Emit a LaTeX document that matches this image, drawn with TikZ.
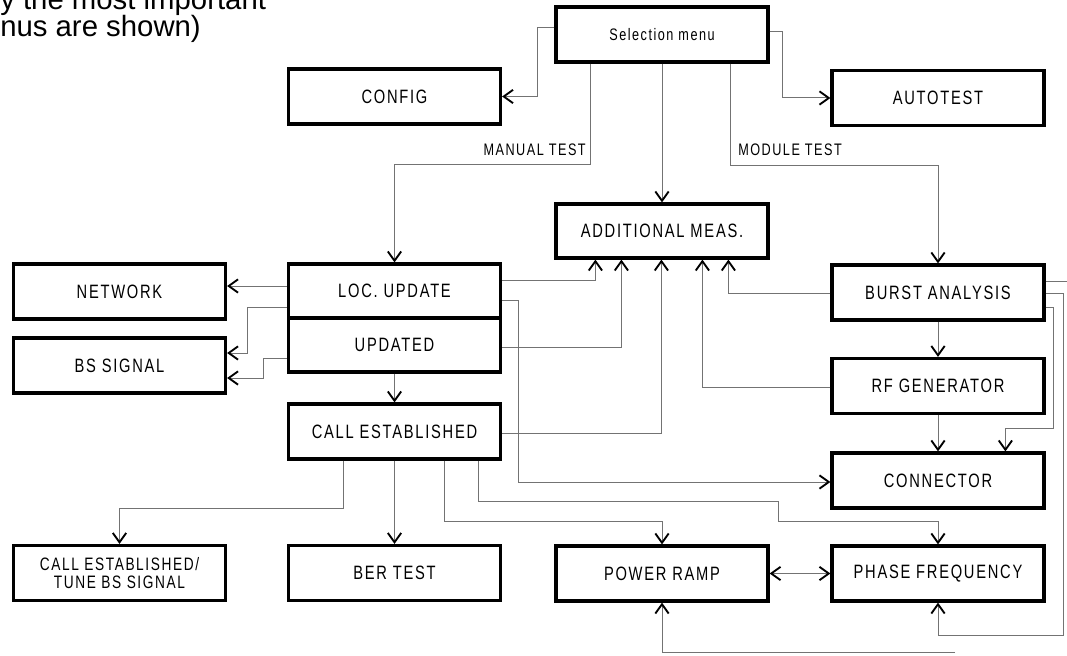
\documentclass[tikz,border=0pt]{standalone}
\usepackage{fontspec}
\setmainfont{Liberation Sans}
\newfontfamily\boxfont[FakeStretch=0.76,LetterSpace=9]{Liberation Sans}
\usetikzlibrary{arrows.meta,calc}
\begin{document}
\begin{tikzpicture}[x=0.75pt,y=-0.75pt,
  box/.style={draw=black,line width=2.4pt,minimum width=159pt,minimum height=41.25pt,inner sep=0pt,align=center,font=\boxfont\fontsize{14.5}{14.5}\selectfont},
  conn/.style={draw=black!55,line width=0.75pt},
  myv/.tip={Straight Barb[length=7pt,width=10pt,line width=1.4pt,color=black]},
  arr/.style={conn,-myv},
  lbl/.style={inner sep=0pt,font=\boxfont\fontsize{12.5}{12.5}\selectfont},
  note/.style={inner sep=0pt,anchor=base west,font=\fontsize{22}{22}\selectfont}]
\useasboundingbox (0,0) rectangle (1067,656);
\begin{scope}
  \clip (0,0) rectangle (1067,656);
  \node[note] (note1) at (0,10) {y the most important};
\end{scope}
\node[note] (note2) at (0,37) {nus are shown)};

% boxes
\node[box,font=\boxfont\fontsize{12.5}{12.5}\selectfont] (sel) at (662,34.5) {Selection menu};
\node[box] (config) at (394.5,96.5) {CONFIG};
\node[box] (autotest) at (938,98) {AUTOTEST};
\node[box,minimum height=40.5pt] (add) at (662,231) {ADDITIONAL MEAS.};
\node[box] (network) at (119.5,291.5) {NETWORK};
\node[box,minimum height=40.5pt] (loc) at (394.5,291) {LOC. UPDATE};
\node[box,minimum height=40.5pt] (upd) at (394.5,345) {UPDATED};
\node[box] (burst) at (938,292.5) {BURST ANALYSIS};
\node[box] (bs) at (119.5,365.5) {BS SIGNAL};
\node[box] (rf) at (938,386) {RF GENERATOR};
\node[box] (call) at (394.5,431.5) {CALL ESTABLISHED};
\node[box] (connector) at (938,480.5) {CONNECTOR};
\node[box,font=\boxfont\fontsize{13.5}{14}\selectfont] (cetune) at (119.5,573) {CALL ESTABLISHED/\\TUNE BS SIGNAL};
\node[box] (ber) at (394.5,573) {BER TEST};
\node[box] (power) at (662,573.5) {POWER RAMP};
\node[box] (phase) at (938,573.5) {PHASE FREQUENCY};

% labels
\node[lbl,anchor=base east] (mtlbl) at (586,156) {MANUAL TEST};
\node[lbl,anchor=base west] (modlbl) at (738,156) {MODULE TEST};

% connectors from selection menu
\draw[arr] (sel.west |- 0,28) -| ($(config.east)+(35,0)$) -- (config.east);
\draw[arr] (sel.east |- 0,32) -| ($(autotest.west)+(-48,0)$) -- (autotest.west);
\draw[arr] (590,0 |- sel.south) -- (590,165) -| (loc.north);
\draw[arr] (sel.south) -- (add.north);
\draw[arr] (730,0 |- sel.south) -- (730,166) -| (burst.north);

% left side
\draw[arr] (loc.west |- 0,286) -- (network.east |- 0,286);
\draw[arr] (loc.west |- 0,307) -| (247,353) -- (bs.east |- 0,353);
\draw[arr] (upd.west |- 0,358) -| (263,378) -- (bs.east |- 0,378);
\draw[arr] (upd.south) -- (call.north);

% into additional meas.
\draw[arr] (loc.east |- 0,280) -| ($(add.south west)+(41,0)$);
\draw[arr] (upd.east |- 0,347) -| ($(add.south west)+(67,0)$);
\draw[arr] (call.east |- 0,433) -| ($(add.south west)+(107,0)$);
\draw[arr] (rf.west |- 0,387) -| ($(add.south west)+(148,0)$);
\draw[arr] (burst.west |- 0,293) -| ($(add.south west)+(174,0)$);

% right column
\draw[arr] (loc.east |- 0,300) -| (518,482) -- (connector.west |- 0,482);
\draw[arr] (burst.south) -- (rf.north);
\draw[arr] (rf.south) -- (connector.north);
\draw[arr] (burst.east |- 0,307) -| (1053,428) -| ($(connector.north west)+(175,0)$);
\draw[arr] (burst.east |- 0,293) -| (1063,635) -| (phase.south);
\coordinate (edgeR) at (1067,281);
\draw[conn] (burst.east |- 0,281) -- (edgeR);

% from call established
\draw[arr] (343,0 |- call.south) -- (343,508) -| (cetune.north);
\draw[arr] (call.south) -- (ber.north);
\draw[arr] (444,0 |- call.south) -- (444,521) -| (power.north);
\draw[arr] (478,0 |- call.south) -- (478,501) -| (778,521) -| (phase.north);
\draw[conn,myv-myv] (power.east) -- (phase.west);
\coordinate (botR) at (955,652);
\draw[arr] (botR) -| (power.south);
\end{tikzpicture}
\end{document}
